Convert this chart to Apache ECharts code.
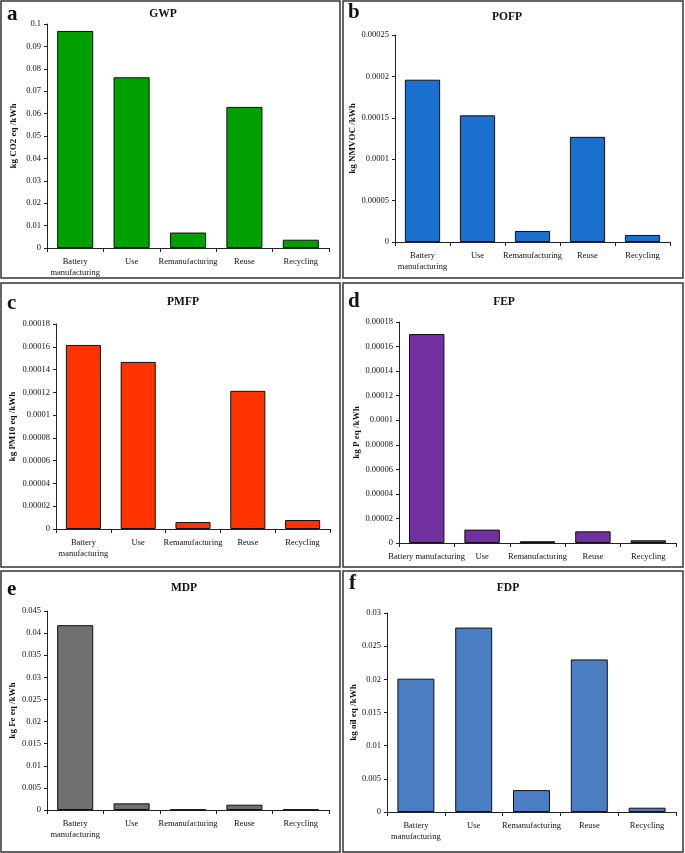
<!DOCTYPE html>
<html>
<head>
<meta charset="utf-8">
<script src="https://cdn.jsdelivr.net/npm/echarts@6/dist/echarts.min.js"></script>
<style>html,body{margin:0;padding:0;background:#fff;}#c{width:685px;height:853px;}</style>
</head>
<body>
<div id="c"></div>
<script>
// ---- data ----
const categoriesTwoLine = ['Battery\nmanufacturing', 'Use', 'Remanufacturing', 'Reuse', 'Recycling'];
const categoriesOneLine = ['Battery manufacturing', 'Use', 'Remanufacturing', 'Reuse', 'Recycling'];
const panelLetters = ['a', 'b', 'c', 'd', 'e', 'f'];
const panelTitles = ['GWP', 'POFP', 'PMFP', 'FEP', 'MDP', 'FDP'];
const yAxisNames = ['kg CO2 eq /kWh', 'kg NMVOC /kWh', 'kg PM10 eq /kWh', 'kg P eq /kWh', 'kg Fe eq /kWh', 'kg oil eq /kWh'];
const gwp  = [0.0969, 0.0762, 0.0069, 0.0630, 0.0037];
const pofp = [0.000196, 0.000153, 0.0000133, 0.000127, 0.0000085];
const pmfp = [0.0001616, 0.0001467, 0.0000061, 0.0001213, 0.0000079];
const fep  = [0.0001702, 0.0000109, 0.0000014, 0.0000095, 0.0000022];
const mdp  = [0.0418, 0.0015, 0.0001, 0.0012, 0.0001];
const fdp  = [0.0201, 0.0278, 0.0033, 0.0230, 0.00065];
const yMax      = [0.1, 0.00025, 0.00018, 0.00018, 0.045, 0.03];
const yInterval = [0.01, 0.00005, 0.00002, 0.00002, 0.005, 0.005];

// ---- layout / style ----
const seriesData = [gwp, pofp, pmfp, fep, mdp, fdp];
const colors = ['#00a000', '#1a6fcf', '#ff3300', '#7030a0', '#707070', '#4a7ec0'];
const grids = [
  {left: 47,  top: 24,  width: 282, height: 224},
  {left: 395, top: 35,  width: 275, height: 207},
  {left: 56,  top: 324, width: 274, height: 205},
  {left: 399, top: 322, width: 277, height: 221},
  {left: 47,  top: 611, width: 282, height: 199},
  {left: 387, top: 613, width: 289, height: 199}
];
const nameGaps = [29, 33, 39, 36, 30, 26];
const titlePos = [[163, 14], [507, 17], [183, 302], [504, 302], [184, 588], [508, 588]];
const letterPos = [[7, 15], [348, 13], [7, 304], [348, 302], [7, 590], [349, 584]];
const panels = [[1, 1, 339, 277], [343, 1, 340, 277], [1, 283, 339, 284], [343, 283, 340, 284], [1, 571, 339, 281], [343, 571, 340, 281]];

const serif = "'Liberation Serif', 'Times New Roman', serif";
const fmt = v => parseFloat(Number(v).toPrecision(6)).toString();

const option = {
  backgroundColor: '#fff',
  animation: false,
  grid: grids.map(g => Object.assign({containLabel: false}, g)),
  xAxis: grids.map((g, i) => ({
    type: 'category',
    gridIndex: i,
    data: i === 3 ? categoriesOneLine : categoriesTwoLine,
    axisLine: {lineStyle: {color: '#222', width: 1}},
    axisTick: {show: true, length: 4, lineStyle: {color: '#222'}},
    axisLabel: {interval: 0, margin: 8, fontFamily: serif, fontSize: 8.5, color: '#111', lineHeight: 11.5}
  })),
  yAxis: grids.map((g, i) => ({
    type: 'value',
    gridIndex: i,
    min: 0,
    max: yMax[i],
    interval: yInterval[i],
    name: yAxisNames[i],
    nameLocation: 'middle',
    nameRotate: 90,
    nameGap: nameGaps[i],
    nameTextStyle: {fontFamily: serif, fontSize: 9, fontWeight: 'bold', color: '#111'},
    splitLine: {show: false},
    axisLine: {show: true, lineStyle: {color: '#222', width: 1}},
    axisTick: {show: true, length: 3, lineStyle: {color: '#222'}},
    axisLabel: {margin: 6, fontFamily: serif, fontSize: 8.5, color: '#111', formatter: fmt}
  })),
  series: seriesData.map((d, i) => ({
    type: 'bar',
    xAxisIndex: i,
    yAxisIndex: i,
    data: d,
    barWidth: '64%',
    itemStyle: {color: colors[i], borderColor: '#111', borderWidth: 1}
  })),
  graphic: [].concat(
    panels.map(p => ({
      type: 'rect', silent: true, z: -1,
      shape: {x: p[0], y: p[1], width: p[2], height: p[3]},
      style: {fill: 'none', stroke: '#333', lineWidth: 1.5}
    })),
    panelTitles.map((t, i) => ({
      type: 'text', x: titlePos[i][0], y: titlePos[i][1],
      style: {text: t, align: 'center', verticalAlign: 'middle', font: "bold 11.5px " + serif, fill: '#111'}
    })),
    panelLetters.map((t, i) => ({
      type: 'text', x: letterPos[i][0], y: letterPos[i][1],
      style: {text: t, align: 'left', verticalAlign: 'middle', font: "bold 21px " + serif, fill: '#111'}
    }))
  )
};
const chart = echarts.init(document.getElementById('c'), null, {renderer: 'canvas'});
chart.setOption(option);
</script>
</body>
</html>
